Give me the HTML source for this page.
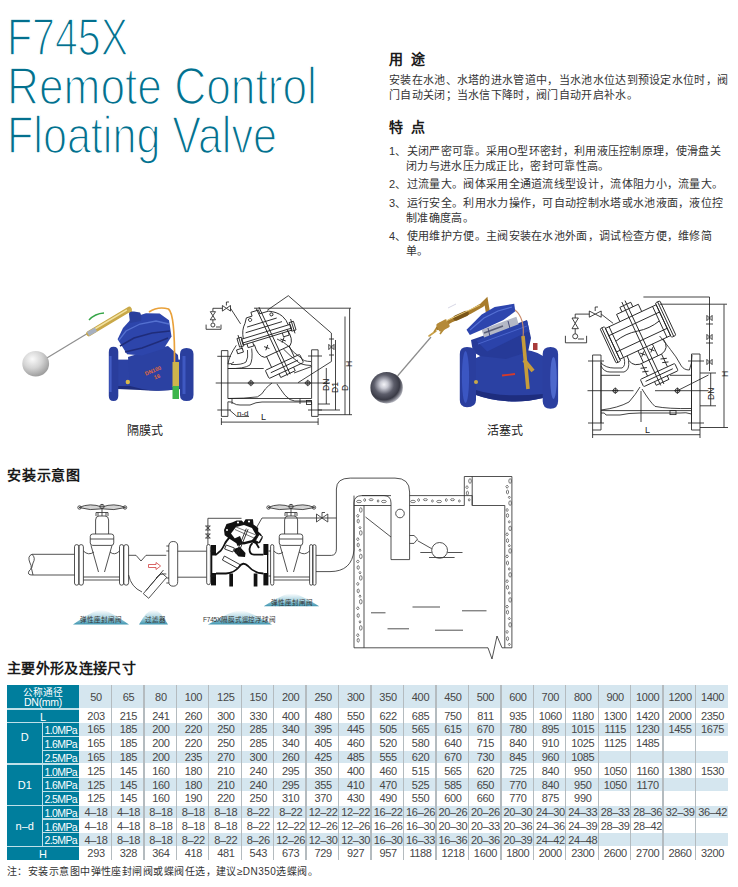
<!DOCTYPE html>
<html lang="zh-CN"><head><meta charset="utf-8">
<style>
html,body{margin:0;padding:0;background:#fff;}
body{width:738px;height:887px;position:relative;overflow:hidden;font-family:"Liberation Sans",sans-serif;}
.s{position:absolute;font-size:6.5px;color:#333;white-space:nowrap;line-height:8px;}
.t{position:absolute;color:#03708e;font-size:52px;line-height:50px;white-space:nowrap;transform-origin:0 0;-webkit-text-stroke:1.6px #fff;}
.h{position:absolute;font-weight:bold;font-size:14px;color:#1a1a1a;white-space:nowrap;}
.p{position:absolute;font-weight:500;font-size:11px;letter-spacing:0.31px;color:#333;white-space:nowrap;line-height:15px;}
</style></head><body>
<svg style="position:absolute;left:0;top:0" width="738" height="887" viewBox="0 0 738 887"><defs>
<radialGradient id="ball1" cx="0.38" cy="0.32" r="0.8">
 <stop offset="0" stop-color="#fafafa"/><stop offset="0.45" stop-color="#d4d4d4"/><stop offset="1" stop-color="#8c8c8c"/>
</radialGradient>
<radialGradient id="ball2" cx="0.42" cy="0.4" r="0.62">
 <stop offset="0" stop-color="#f4f4f8"/><stop offset="0.2" stop-color="#c9cad4"/><stop offset="0.5" stop-color="#5c5d6a"/><stop offset="0.78" stop-color="#3a3b46"/><stop offset="1" stop-color="#b8b9c2"/>
</radialGradient>
<linearGradient id="blueV" x1="0" y1="0" x2="0" y2="1">
 <stop offset="0" stop-color="#3550b4"/><stop offset="0.5" stop-color="#2a40a0"/><stop offset="1" stop-color="#1f2f80"/>
</linearGradient>
<linearGradient id="blueH" x1="0" y1="0" x2="1" y2="0">
 <stop offset="0" stop-color="#1f2f85"/><stop offset="0.4" stop-color="#3650b8"/><stop offset="1" stop-color="#22348a"/>
</linearGradient>
<linearGradient id="mtn" x1="0" y1="0" x2="0" y2="1">
 <stop offset="0" stop-color="#ffffff"/><stop offset="0.55" stop-color="#a9d3e0"/><stop offset="1" stop-color="#3f95b0"/>
</linearGradient>
</defs>
<g>
<line x1="46" y1="358.5" x2="89" y2="332.5" stroke="#8e8e8e" stroke-width="1.2"/>
<path d="M89 333.5 L129 309.5" stroke="#c9a848" stroke-width="5.5" stroke-linecap="round"/>
<path d="M93 330 L127 309.8" stroke="#f2e2a0" stroke-width="1.5"/>
<path d="M88 334 L96 329.5" stroke="#a7b0c0" stroke-width="4.5"/>
<path d="M129 309 L133 317" stroke="#cdb050" stroke-width="3.5"/>
<path d="M89 320 Q95 313.5 104 313" stroke="#36a548" stroke-width="1.5" fill="none"/>
<ellipse cx="35.7" cy="363.7" rx="13.4" ry="12.7" fill="url(#ball1)"/>
<rect x="117" y="359.6" width="64" height="28.6" fill="#2c42a4"/>
<path d="M117 386 H181 V389 Q160 392 140 390 L117 389 Z" fill="#1e2d7c"/>
<path d="M128 357 L150 350 L168 346 L178 355 L181 388 Q160 393 142 389 L130 386 Z" fill="#2b41a2"/>
<path d="M117.6 339.3 L123 328 L132.5 317.6 L146 313.2 L159.6 313.5 L169 320.3 L171.5 336.6 L163.7 348.8 L142 355.6 L127.1 354.2 Z" fill="#2d45ab"/>
<path d="M119 340 L126 331 L140 324 L156 321 L169 324" stroke="#5470d0" stroke-width="1.3" fill="none"/>
<path d="M120 346 L134 338 L152 333 L170 331" stroke="#1f2c7a" stroke-width="1.6" fill="none"/>
<path d="M125 352 L142 348 L158 342 L168 338" stroke="#1f2c7a" stroke-width="1.4" fill="none"/>
<path d="M129 314 Q129 311 134 311.5 L140 312.5 Q142 316 141 321 L130 323 Z" fill="#2a3f9c"/>
<path d="M108.8 352 Q108.8 346.7 113.5 346.7 Q118.3 346.7 118.3 352 V396 Q118.3 401 113.5 401 Q108.8 401 108.8 396 Z" fill="#293d9c"/>
<path d="M110.5 356 V392" stroke="#435dc4" stroke-width="2.2"/>
<path d="M180 354 Q180 348 186.5 348 Q193.5 348 193.5 354 V395 Q193.5 401 186.5 401 Q180 401 180 395 Z" fill="#2a3f9e"/>
<path d="M184 356 V394" stroke="#3f59c2" stroke-width="3"/>
<path d="M149 312 Q158 306 168.5 309 Q175 314 174.5 364" stroke="#e9a13a" stroke-width="1.7" fill="none"/>
<rect x="172.5" y="362" width="6.5" height="25" fill="#cdb44c"/>
<rect x="172.5" y="386" width="6.5" height="13" fill="#3db64c"/>
<g transform="rotate(-22 155 372)" fill="#e46a3a" font-size="5.5" font-weight="bold" font-family="Liberation Sans, sans-serif"><text x="145" y="372">DN100</text><text x="152" y="379">16</text></g>
<circle cx="127.8" cy="382" r="2.2" fill="#d9b849"/>
</g>
<g>
<line x1="397.5" y1="376" x2="431" y2="337" stroke="#8c8c8c" stroke-width="1.2"/>
<path d="M429 336 L436 331" stroke="#c9a045" stroke-width="1.6" stroke-linecap="round"/>
<path d="M434 332 L440 323 M440 334 L446 326" stroke="#b38a35" stroke-width="1.6"/>
<path d="M438 328 L452 320 L470 312 L482 305 L486 301 L488 313" stroke="#a87c2c" stroke-width="4.2" fill="none" stroke-linecap="round"/>
<rect x="437" y="321" width="12" height="9" rx="2" transform="rotate(-28 443 325.5)" fill="#b58a38"/>
<path d="M456 318 L466 313.5" stroke="#7a5518" stroke-width="5.5" stroke-linecap="round"/>
<path d="M446 321 L480 305" stroke="#e5c878" stroke-width="1"/>
<path d="M448 308 L456 304" stroke="#ccd" stroke-width="0.8"/>
<ellipse cx="386.6" cy="387.7" rx="16.2" ry="15.8" fill="url(#ball2)"/>
<path d="M476 358 Q490 351 505 350 Q530 347 543 356 V398 Q522 403 505 401 Q490 400 476 395 Z" fill="#2b41a3"/>
<path d="M476 390 Q500 398 543 394 V398 Q522 403 505 401 Q490 400 476 395 Z" fill="#1e2d7e"/>
<path d="M473 352 L471 340 L500 330 L527 320 L531 338 L528 352 L506 359 L480 356 Z" fill="#263a98"/>
<path d="M481.7 329.7 L516.4 316.7 L520.7 330.8 L484.9 340.5 Z" fill="#b4b8c6"/>
<path d="M486 338 L518 327" stroke="#eef0f6" stroke-width="1.6"/>
<path d="M484 333 L503 326" stroke="#5a5f78" stroke-width="1.5"/>
<path d="M488 328 L492 345 M508 321 L512 336" stroke="#3a4070" stroke-width="0.9"/>
<path d="M466.5 329.7 L481.7 314.5 L494.7 306.9 L514.2 303.7 L515.3 311.3 L503.4 320 L487.1 327.5 L469.8 335.1 Z" fill="#2d45ae"/>
<path d="M470 330 L484 318 L498 311 L512 307" stroke="#5570d4" stroke-width="1.2" fill="none"/>
<path d="M476.3 340.5 L527.2 321 L529.4 330.8 L487.1 351.4 Z" fill="#2b43aa"/>
<path d="M478 344 L527 326" stroke="#4a65cc" stroke-width="1" fill="none"/>
<path d="M459.8 354 Q459.8 347 467 347 Q476 347 476 354 V400 Q476 407.2 467 407.2 Q459.8 407.2 459.8 400 Z" fill="#2a3e9e"/>
<ellipse cx="465.5" cy="377" rx="3.6" ry="26" fill="#3b56c2"/>
<path d="M542.7 354 Q542.7 347 550.5 347 Q558.1 347 558.1 354 V401 Q558.1 408.8 550.5 408.8 Q542.7 408.8 542.7 401 Z" fill="#2b3fa0"/>
<ellipse cx="553.5" cy="378" rx="3.3" ry="21" fill="#4d68cc"/>
<path d="M515 310 Q525 318 523 338" stroke="#c88a6a" stroke-width="1.1" fill="none"/>
<path d="M523 336 L528 389" stroke="#c79c3c" stroke-width="3.6" fill="none"/>
<path d="M524 360 L533 371" stroke="#c79c3c" stroke-width="4"/>
<path d="M502 375.5 L515 374" stroke="#d63a2a" stroke-width="1.8"/>
<rect x="533" y="343" width="4.5" height="7" fill="#a83a3a"/>
<circle cx="476" cy="382" r="2" fill="#c9a848"/>
</g>
<g stroke="#222" stroke-width="0.85" fill="none">
<path d="M221.4 350.6 H227.9 V364 M221.4 350.6 V416.4 H227.9 V401.8"/>
<path d="M227.9 364 V398.5"/>
<path d="M311.6 349.8 H318.1 V416.4 H311.6 V401.8 M311.6 349.8 V398.5"/>
<path d="M217.3 356.3 H231 M308 356 H322 M217.3 410 H231 M308 410 H322"/>
<path d="M227.9 364 Q232 364 234 362 M227.9 368.5 H263.7 M294 373 L311.6 366.5"/>
<path d="M228 364 Q229 356 236.3 345.3 M227.9 368.5 Q244 369 250 365 Q253 360 251.7 348.5 M231 364.5 Q242 365 246 362 Q248.5 358 247.5 350"/>
<rect x="237" y="349" width="6" height="4" transform="rotate(-17 240 351)"/>
<path d="M311 361.5 Q303 361.5 301.3 358 Q292 352 288.3 346 Q284 342 277 339"/>
<path d="M311 365.5 Q300 365 297 361 Q290 356 283.4 349"/>
<path d="M215.7 383 H330"/>
<circle cx="250.9" cy="383" r="2.2"/><path d="M247.70000000000002 383 H254.1 M250.9 379.8 V386.2"/><circle cx="307.8" cy="383" r="2.2"/><path d="M304.6 383 H311.0 M307.8 379.8 V386.2"/>
<path d="M272 383 Q268 386 265.5 388.8 Q262 395 257.4 396.9 Q245 398.5 227.9 398.5 M276.9 383.9 Q281 390 285 395.3 Q290 401 294.8 401 H311.6"/>
<path d="M232 398.5 V404 M300 398.5 V404 M227.9 398.5 H311.6"/>
<path d="M227.9 401.8 Q232 401.5 234 403.5 Q236 405 240 405 H250 Q256 402 262 402 H300 Q305 402 311.6 401.8"/>
<rect x="306.5" y="400.5" width="5" height="4"/>
<path d="M229.5 410 L236.8 416.4 H249"/>
<path d="M221.4 418 V425 M318.1 418 V425 M221.4 422.1 H318.1"/>
<path d="M254 308.2 H351"/>
<path d="M267.2 310.3 L288.3 295.7 L331.4 333.1 V361.5 L298 382.7"/>
<path d="M328.79999999999995 344.4 L334.0 349.6 L334.0 344.4 L328.79999999999995 349.6 Z"/>
<path d="M329 339 H334 M329 355 H334"/>
<path d="M212.9 311 V308.3 H222.4 M230.5 308.3 L240.6 323.9 M226.4 305.5 V302 H229"/>
<path d="M222.4 305.5 L226.4 308.3 L222.4 311.1 Z M230.5 305.5 L226.4 308.3 L230.5 311.1 Z"/>
<path d="M210.3 311.7 H215.5 L212.9 315.7 Z M210.3 319.8 H215.5 L212.9 315.7 Z M212.9 319.8 V322.5"/>
<circle cx="212.9" cy="325" r="2"/>
<path d="M206.1 324.6 V329.3 H221 V324.6 M216 327 H220"/>
<path d="M349.6 308.4 V414.7 M345 316.5 V414.7 M335.5 340 V410 M326.3 368 V404"/>
<path d="M318.1 414.7 H352 M318 404 H330 M318 410 H340"/>
<g transform="rotate(-17 265 331)">
 <path d="M240 332 H291 M240 336 H291 M240 332 V338 H291 V332"/>
 <path d="M242 332 Q243 323 248 318 L251 313 H257 V309 H265 V313 H274 Q282 316 286 322 Q289 327 289 332"/>
 <path d="M246 327 H284 M249 322 H280"/>
 <rect x="236" y="330" width="4.5" height="9"/><rect x="290.5" y="330" width="4.5" height="9"/>
 <path d="M238 327 V342 M293 327 V342"/>
 <circle cx="254" cy="316" r="1.6"/><circle cx="276" cy="317" r="1.6"/>
 <path d="M244 338 V342 H250 V338 M281 338 V342 H287 V338"/>
</g>
<g transform="rotate(-25 266 327)">
 <path d="M248 338 Q246 350 252 354 H280 Q286 350 284 338"/>
 <path d="M265 306 V380 M268 306 V380"/>
 <path d="M254 354 V366 M279 354 V366"/>
 <path d="M256 344 L260 348 M256 348 L260 344 M274 344 L278 348 M274 348 L278 344"/>
 <rect x="247" y="366" width="38" height="9" rx="1"/>
 <path d="M251 370.5 H281 M258 375 V379 H274 V375"/>
</g>
</g>
<g fill="#222" font-family="Liberation Sans, sans-serif">
<text x="237" y="415.5" font-size="8">n-d</text>
<text x="261" y="420" font-size="9">L</text>
<text transform="translate(328.5 391) rotate(-90)" font-size="8.5">DN</text>
<text transform="translate(338 393) rotate(-90)" font-size="8.5">D1</text>
<text transform="translate(347.5 391) rotate(-90)" font-size="8.5">D</text>
<text transform="translate(352 367) rotate(-90)" font-size="8.5">H</text>
</g>
<g stroke="#222" stroke-width="0.85" fill="none">
<path d="M592.6 355 H601 V430 H592.6 Z M601 362 V423"/>
<path d="M691.5 354 H700 V430 H691.5 Z M691.5 361 V423"/>
<path d="M588 361 H604 M688 361 H704 M588 423 H604 M688 423 H704"/>
<path d="M601 375.3 H620 M670 375.3 H691.5 M601 410.6 H691.5"/>
<path d="M601 366 Q604 372 610 372 H624 Q630 370 628.5 360.5"/>
<path d="M601 363 Q606 368 614 368 H622 Q626 366 624 358"/>
<path d="M659.6 336 Q668 346 670.5 349.6 Q676 356 681.3 365.9 Q684 370 689.4 370 Q692 364 692 355"/>
<path d="M587.5 390.7 H633.5 M655 390.7 H708.5"/>
<circle cx="615.3" cy="390.7" r="2.2"/><path d="M612.0999999999999 390.7 H618.5 M615.3 387.5 V393.9"/><circle cx="677.4" cy="390.7" r="2.2"/><path d="M674.1999999999999 390.7 H680.6 M677.4 387.5 V393.9"/>
<path d="M601 410 Q618 408 629 402 Q636 394 640 387 M642 389 Q650 402 655 406.4 Q668 409 692 408.5"/>
<path d="M641 391 V422"/>
<rect x="670" y="410.6" width="6" height="4"/>
<path d="M601 413 Q605 412 606 415 H620 Q628 413 640 413 H680 Q686 412 691.5 414"/>
<path d="M643.4 297 H709.5 V371 M659.6 304.2 H727"/>
<path d="M706.9 315.4 L712.1 320.6 L712.1 315.4 L706.9 320.6 Z"/><path d="M706.9 334.4 L712.1 339.6 L712.1 334.4 L706.9 339.6 Z"/><path d="M706.9 359.4 L712.1 364.6 L712.1 359.4 L706.9 364.6 Z"/>
<path d="M706 324 H713 M706 343 H713"/>
<path d="M677.4 390.7 L708.5 375"/>
<path d="M575.2 318 V314.1 H589.3 M601.2 314.1 L613.1 323.3 M595.2 311 V307 H598"/>
<path d="M589.3 311 L595.2 314.1 L589.3 317.2 Z M601.2 311 L595.2 314.1 L601.2 317.2 Z"/>
<path d="M572 318 H578.4 L575.2 323.3 Z M572 328.7 H578.4 L575.2 323.3 Z M575.2 328.7 V333.8"/>
<circle cx="575.2" cy="336.3" r="2.5"/>
<path d="M565.4 335.8 V342.8 H586.6 V335.8 M578 339 H584"/>
<path d="M724 304.5 V427.5 M700 427.5 H728"/>
<path d="M710.7 373 V405.8 M700 373 H716 M700 405.8 H716"/>
<path d="M592.6 434.7 H700 M592.6 430 V438 M700 430 V438"/>
<g transform="rotate(-25 638 332)">
 <rect x="610" y="315" width="56" height="34"/>
 <path d="M614 315 V349 M662 315 V349 M610 323 H666 M614 331 Q626 328 638 331 Q650 334 662 331 M610 341 H666"/>
 <rect x="605" y="313" width="5" height="38" rx="1"/><rect x="666" y="313" width="5" height="38" rx="1"/>
 <path d="M607 313 V351 M668.5 313 V351"/>
 <path d="M626 315 V307 H650 V315 M632 307 V302 H644 V307"/>
 <path d="M618 349 Q616 360 626 362 H650 Q660 360 658 349"/>
 <path d="M636 298 V390 M639.5 298 V390"/>
 <path d="M630 349 V362 M646 349 V362 M631 352 L635 356 M631 356 L635 352 M641 352 L645 356 M641 356 L645 352"/>
 <path d="M628 362 V376 M650 362 V376"/>
 <path d="M625 366 L631 368 M625 370 L631 372 M647 366 L653 368 M647 370 L653 372"/>
 <rect x="620" y="376" width="38" height="8" rx="1"/>
 <path d="M624 380 H654 M632 384 V388 H646 V384"/>
</g>
</g>
<g fill="#222" font-family="Liberation Sans, sans-serif">
<text x="645" y="433" font-size="9">L</text>
<text transform="translate(714 400) rotate(-90)" font-size="8.5">DN</text>
<text transform="translate(727.5 377) rotate(-90)" font-size="8.5">H</text>
</g>
<g stroke="#333" stroke-width="0.85" fill="none">
<path d="M74.5 554.3 H32 Q27 556 30 563 Q33 568 29 571 Q27 575 32 575 H74.5"/>
<path d="M32 554.3 Q36 558 33 563 Q30 568 33 575"/>
<path d="M74.5 546.8000000000001 Q74.5 544.6 76.7 544.6 Q78.9 544.6 78.9 546.8000000000001 V583.0 Q78.9 585.2 76.7 585.2 Q74.5 585.2 74.5 583.0 Z"/>
<path d="M78.9 546.85 Q78.9 544.6 81.15 544.6 Q83.4 544.6 83.4 546.85 V582.95 Q83.4 585.2 81.15 585.2 Q78.9 585.2 78.9 582.95 Z"/>
<path d="M119.5 546.7 Q119.5 544.6 121.6 544.6 Q123.7 544.6 123.7 546.7 V583.1 Q123.7 585.2 121.6 585.2 Q119.5 585.2 119.5 583.1 Z"/>
<path d="M123.7 547.0500000000001 Q123.7 544.6 126.15 544.6 Q128.6 544.6 128.6 547.0500000000001 V582.75 Q128.6 585.2 126.15 585.2 Q123.7 585.2 123.7 582.75 Z"/>
<path d="M83.4 551 Q88.4 556 94 552 M119.5 551 Q114.5 556 110 552"/>
<path d="M83.4 577 H119.5 M83.4 580 H119.5"/>
<path d="M91 545.4 L98.5 572 M112 545.4 L104.5 572"/>
<rect x="90.25" y="534" width="23.5" height="11.4" rx="2.5"/>
<path d="M95.6 534 V520 Q95.6 516 99 516 H105 Q108.6 516 108.6 520 V534 M90.25 539 H113.75"/>
<path d="M96 516 V512.5 H108 V516 M98 512.5 V516 M102 512.5 V516 M106 512.5 V516"/>
<path d="M102 504 V512.5"/>
<path d="M79 507.5 Q90 502.5 102 507 Q114 502.5 125.5 507.5 Q114 511 102 508.8 Q90 511 79 507.5 Z" fill="#d4d4d4"/>
<circle cx="79.5" cy="507.5" r="1.7"/><circle cx="125" cy="507.5" r="1.7"/><circle cx="102" cy="506.5" r="2.2"/>
<path d="M270.6 546.2 Q270.6 544.6 272.20000000000005 544.6 Q273.8 544.6 273.8 546.2 V583.6 Q273.8 585.2 272.20000000000005 585.2 Q270.6 585.2 270.6 583.6 Z"/>
<path d="M309.6 546.2 Q309.6 544.6 311.20000000000005 544.6 Q312.8 544.6 312.8 546.2 V583.6 Q312.8 585.2 311.20000000000005 585.2 Q309.6 585.2 309.6 583.6 Z"/>
<path d="M312.8 546.2 Q312.8 544.6 314.4 544.6 Q316 544.6 316 546.2 V583.6 Q316 585.2 314.4 585.2 Q312.8 585.2 312.8 583.6 Z"/>
<path d="M273.8 551 Q278.8 556 283 552 M309.6 551 Q304.6 556 299 552"/>
<path d="M273.8 577 H309.6 M273.8 580 H309.6"/>
<path d="M280 545.4 L287.5 572 M301 545.4 L293.5 572"/>
<rect x="279.25" y="534" width="23.5" height="11.4" rx="2.5"/>
<path d="M284.6 534 V520 Q284.6 516 288 516 H294 Q297.6 516 297.6 520 V534 M279.25 539 H302.75"/>
<path d="M285 516 V512.5 H297 V516 M287 512.5 V516 M291 512.5 V516 M295 512.5 V516"/>
<path d="M291 504 V512.5"/>
<path d="M268 507.5 Q279 502.5 291 507 Q303 502.5 314.5 507.5 Q303 511 291 508.8 Q279 511 268 507.5 Z" fill="#d4d4d4"/>
<circle cx="268.5" cy="507.5" r="1.7"/><circle cx="314" cy="507.5" r="1.7"/><circle cx="291" cy="506.5" r="2.2"/>
<path d="M128.6 555.3 H136 L141 561 L146 555.3 H166.3"/>
<path d="M128.6 575 Q131 587 142 592 M156 578 Q160 573 166.3 574"/>
<path d="M166.3 546 H169 M166.3 551 H169 M166.3 578 H169 M166.3 583 H169"/>
<path d="M168.8 545.95 Q168.8 541.5 173.25 541.5 Q177.7 541.5 177.7 545.95 V581.75 Q177.7 586.2 173.25 586.2 Q168.8 586.2 168.8 581.75 Z"/>
<path d="M143.3 593.7 L148.7 598.3 L166.7 577.3 L161.3 572.7 Z M146 590.5 L163.5 570"/>
<path d="M177.7 551.2 H206.5 M177.7 577.2 H206.5"/>
<path d="M206.7 546.35 Q206.7 544.5 208.55 544.5 Q210.4 544.5 210.4 546.35 V582.75 Q210.4 584.6 208.55 584.6 Q206.7 584.6 206.7 582.75 Z"/>
<path d="M207.9 544.5 V518.3 H241.5"/>
<path d="M205.5 526 L210.3 530 L205.5 530 L210.3 526 Z M205.5 534 L210.3 538 L205.5 538 L210.3 534 Z"/>
<path d="M254 532 L262 518 M262 518 H336.4"/>
<path d="M316.5 514 L322 518 L316.5 522 Z M327.8 514 L322 518 L327.8 522 Z M322 518 V512.5 H325"/>
<path d="M316 555.4 H331.5 Q336.4 555 336.4 549 V489 Q336.4 478.1 350.2 478.1 H395 Q409.6 478.1 409.6 492 V559.6 H391 V503 Q391 495.6 384 495.6 H362 Q354 495.6 354 503 V550 Q352 571.6 330 571.6 H316"/>
</g>
<g fill="#111">
<rect x="211" y="545" width="5" height="10.5"/>
<rect x="211" y="573" width="5" height="12.4"/>
<rect x="211" y="555" width="1.3" height="18"/>
<rect x="229.3" y="573.5" width="3.7" height="13"/>
<rect x="253.7" y="573.5" width="3.7" height="13"/>
<rect x="263.4" y="544" width="5" height="11"/>
<rect x="263.4" y="573" width="5" height="12.4"/>
<rect x="267" y="555" width="1.3" height="18"/>
<path d="M224.7 535.3 L224 530 L226.5 524 L232 522.5 L236.6 520.4 L241.8 520.4 L243.5 522.5 L245.6 519.3 L253 519.3 L253.5 524.5 L258.2 528 L258.2 531.6 L261 534 L262.7 538 L260 543 L256 544 L252 542.5 L244 544.5 L236 543 L229 538.5 Z"/>
</g>
<path d="M231 533.5 L236 527 L244 525 L252 528 L256 535 L252 540 L244 542 L236 540 Z" fill="#fff"/>
<path d="M236 527 L256 535 M235 529.5 L254 538" stroke="#666" stroke-width="0.9" fill="none"/>
<g fill="#111">
<path d="M234.5 538.5 L240 536 L243 544 L237.5 546 Z"/>
<path d="M234.4 548.7 L240 547 L245.5 553 L245 557 L238.5 556.5 L234 551.5 Z"/>
<circle cx="238" cy="522.5" r="1.1" fill="#fff"/><circle cx="249" cy="521.5" r="1.1" fill="#fff"/><circle cx="227" cy="530" r="1" fill="#fff"/>
</g>
<g fill="none" stroke="#111" stroke-width="1.8">
<path d="M231 536 Q226 541 224.7 544 Q222 550 219.5 551.7 Q217 554 215.5 555"/>
<path d="M216 573.5 H226 Q234 573 239 567 Q243 561 248 566 Q254 573 263.4 573.5"/>
<path d="M252.5 543 Q250 545 249.5 549 Q249.5 554.5 254 554.7 H263.4"/>
<path d="M256 543 L259 548"/>
</g>
<g fill="none" stroke="#222" stroke-width="0.9">
<path d="M246.3 528.6 L236 554 M248.1 529.2 L237.8 554.6"/>
<path d="M226.2 545 L234.4 548 L232.8 552 L224.6 549 Z"/>
<path d="M224.4 556 L240 564.6 L238 568.5 L222.4 560 Z"/>
<path d="M210.4 551 H216 M210.4 576 H216 M268.4 551 H270.6 M268.4 576 H270.6"/>
</g>
<rect x="257" y="535" width="4" height="7" transform="rotate(30 259 538.5)" fill="#fff" stroke="#111" stroke-width="0.8"/>

<g stroke="#333" stroke-width="0.85" fill="none">
<path d="M354 647.8 V505.5 H391 M409.6 505.5 H464.3 V476.5 H511.9 V647.8 H502 L497 636 L492 659 L488 647.8 H354"/>
<path d="M364 505.5 V647.8 M354 495.6 V505.5 M409.6 495.6 H472.2 V505.5 M472.2 476.5 V505.5 H504.8 V647.8"/>
<path d="M391 495.6 H362"/>
<circle cx="400" cy="513.5" r="4.3"/>
<path d="M365.5 517 L391 537"/>
<path d="M409.6 535.5 L414 535.5 L417.6 539 L414 543.4 H409.6"/>
<path d="M417.6 540.7 L431.7 548.7"/>
<circle cx="439.6" cy="550.4" r="7.9"/>
<path d="M420.3 552.5 H431.7 M447.5 552.5 H462.5 M429 557.5 H454.6"/>
<path d="M371 612.8 H385.5 M412.5 607 H440 M462 610.8 H486.5 M387.5 628.8 H409 M435 630.2 H463"/>
</g>
<g stroke="#444" stroke-width="0.7" fill="none"><ellipse cx="360.8" cy="510.0" rx="1.3" ry="2.3"/><path d="M357.8 514.2 L359.1 515.8 L357.8 517.4 L356.5 515.8 Z"/><ellipse cx="358.2" cy="521.1" rx="1.1" ry="1.9"/><path d="M360.0 526.4 L361.0 527.7 L360.0 529.0 L359.0 527.7 Z"/><ellipse cx="360.8" cy="532.9" rx="1.3" ry="2.3"/><path d="M357.8 537.6 L359.1 539.2 L357.8 540.8 L356.5 539.2 Z"/><ellipse cx="358.2" cy="545.0" rx="1.1" ry="1.9"/><path d="M360.0 548.9 L361.0 550.2 L360.0 551.5 L359.0 550.2 Z"/><ellipse cx="360.8" cy="556.4" rx="1.3" ry="2.3"/><path d="M357.8 559.9 L359.1 561.5 L357.8 563.1 L356.5 561.5 Z"/><ellipse cx="358.2" cy="567.5" rx="1.1" ry="1.9"/><path d="M360.0 571.4 L361.0 572.7 L360.0 574.0 L359.0 572.7 Z"/><ellipse cx="360.8" cy="577.9" rx="1.3" ry="2.3"/><path d="M357.8 582.3 L359.1 583.9 L357.8 585.5 L356.5 583.9 Z"/><ellipse cx="358.2" cy="590.9" rx="1.1" ry="1.9"/><path d="M360.0 594.9 L361.0 596.2 L360.0 597.5 L359.0 596.2 Z"/><ellipse cx="360.8" cy="601.7" rx="1.3" ry="2.3"/><path d="M357.8 606.7 L359.1 608.3 L357.8 609.9 L356.5 608.3 Z"/><ellipse cx="358.2" cy="615.5" rx="1.1" ry="1.9"/><path d="M360.0 620.6 L361.0 621.9 L360.0 623.2 L359.0 621.9 Z"/><ellipse cx="360.8" cy="627.9" rx="1.3" ry="2.3"/><path d="M357.8 633.6 L359.1 635.2 L357.8 636.8 L356.5 635.2 Z"/><ellipse cx="358.2" cy="640.3" rx="1.1" ry="1.9"/><ellipse cx="510.1" cy="481.0" rx="1.3" ry="2.3"/><path d="M507.1 485.1 L508.4 486.7 L507.1 488.3 L505.8 486.7 Z"/><ellipse cx="507.5" cy="492.0" rx="1.1" ry="1.9"/><path d="M509.3 496.0 L510.3 497.3 L509.3 498.6 L508.3 497.3 Z"/><ellipse cx="510.1" cy="503.1" rx="1.3" ry="2.3"/><path d="M507.1 508.4 L508.4 510.0 L507.1 511.6 L505.8 510.0 Z"/><ellipse cx="507.5" cy="515.5" rx="1.1" ry="1.9"/><path d="M509.3 520.6 L510.3 521.9 L509.3 523.2 L508.3 521.9 Z"/><ellipse cx="510.1" cy="528.4" rx="1.3" ry="2.3"/><path d="M507.1 532.7 L508.4 534.3 L507.1 535.9 L505.8 534.3 Z"/><ellipse cx="507.5" cy="540.6" rx="1.1" ry="1.9"/><path d="M509.3 544.4 L510.3 545.7 L509.3 547.0 L508.3 545.7 Z"/><ellipse cx="510.1" cy="550.9" rx="1.3" ry="2.3"/><path d="M507.1 554.8 L508.4 556.4 L507.1 558.0 L505.8 556.4 Z"/><ellipse cx="507.5" cy="563.0" rx="1.1" ry="1.9"/><path d="M509.3 567.7 L510.3 569.0 L509.3 570.3 L508.3 569.0 Z"/><ellipse cx="510.1" cy="574.8" rx="1.3" ry="2.3"/><path d="M507.1 579.6 L508.4 581.2 L507.1 582.8 L505.8 581.2 Z"/><ellipse cx="507.5" cy="587.3" rx="1.1" ry="1.9"/><path d="M509.3 591.7 L510.3 593.0 L509.3 594.3 L508.3 593.0 Z"/><ellipse cx="510.1" cy="599.9" rx="1.3" ry="2.3"/><path d="M507.1 605.0 L508.4 606.6 L507.1 608.2 L505.8 606.6 Z"/><ellipse cx="507.5" cy="612.2" rx="1.1" ry="1.9"/><path d="M509.3 617.3 L510.3 618.6 L509.3 619.9 L508.3 618.6 Z"/><ellipse cx="510.1" cy="624.8" rx="1.3" ry="2.3"/><path d="M507.1 630.3 L508.4 631.9 L507.1 633.5 L505.8 631.9 Z"/><ellipse cx="507.5" cy="638.7" rx="1.1" ry="1.9"/><path d="M509.3 643.1 L510.3 644.4 L509.3 645.7 L508.3 644.4 Z"/><ellipse cx="359.0" cy="501.5" rx="2.4" ry="1.2"/><path d="M364.7 498.5 L365.9 500.0 L364.7 501.5 L363.5 500.0 Z"/><ellipse cx="371.1" cy="499.7" rx="2" ry="1"/><path d="M378.1 499.7 L379.1 501.0 L378.1 502.3 L377.0 501.0 Z"/><ellipse cx="383.9" cy="501.5" rx="2.4" ry="1.2"/><ellipse cx="413.0" cy="501.5" rx="2.4" ry="1.2"/><path d="M418.6 498.5 L419.8 500.0 L418.6 501.5 L417.4 500.0 Z"/><ellipse cx="425.4" cy="499.7" rx="2" ry="1"/><path d="M432.4 499.7 L433.5 501.0 L432.4 502.3 L431.4 501.0 Z"/><ellipse cx="439.1" cy="501.5" rx="2.4" ry="1.2"/><path d="M446.3 498.5 L447.5 500.0 L446.3 501.5 L445.1 500.0 Z"/><ellipse cx="452.5" cy="499.7" rx="2" ry="1"/><path d="M459.4 499.7 L460.4 501.0 L459.4 502.3 L458.3 501.0 Z"/><ellipse cx="470.0" cy="481.0" rx="1.3" ry="2.3"/><path d="M467.0 485.6 L468.3 487.2 L467.0 488.8 L465.7 487.2 Z"/><ellipse cx="467.4" cy="493.1" rx="1.1" ry="1.9"/><path d="M469.2 498.6 L470.2 499.9 L469.2 501.2 L468.2 499.9 Z"/></g>
<path d="M73 624.5 Q95.0 609 101.0 610 Q107.0 609 129 624.5 Z" fill="url(#mtn)"/>
<path d="M139 624.5 Q147.5 609 153.5 610 Q159.5 609 168 624.5 Z" fill="url(#mtn)"/>
<path d="M208 624.5 Q234.0 609.5 240.0 610.5 Q246.0 609.5 272 624.5 Z" fill="url(#mtn)"/>
<path d="M263.7 606.2 Q285.45 592.5 291.45 593.5 Q297.45 592.5 319.2 606.2 Z" fill="url(#mtn)"/>
<path d="M148.5 564.5 H156 V562.5 L160.6 566 L156 569.5 V567.5 H148.5 Z" fill="none" stroke="#d04040" stroke-width="0.8"/></svg>
<div class="t" style="left:6.5px;top:12.2px;transform:scaleX(0.79)">F745X</div>
<div class="t" style="left:6.5px;top:60.8px;transform:scaleX(0.851)">Remote Control</div>
<div class="t" style="left:6.5px;top:109.8px;transform:scaleX(0.829)">Floating Valve</div>
<div class="s" style="left:80px;top:616px">弹性座封闸阀</div>
<div class="s" style="left:145px;top:616px">过滤器</div>
<div class="s" style="left:203px;top:616px;letter-spacing:-0.2px">F745X隔膜式遥控浮球阀</div>
<div class="s" style="left:271px;top:599px">弹性座封闸阀</div>

<div class="h" style="left:389px;top:47.5px;letter-spacing:8px">用途</div>
<div class="p" style="left:389px;top:73px">安装在水池、水塔的进水管道中，当水池水位达到预设定水位时，阀<br>门自动关闭；当水信下降时，阀门自动开启补水。</div>
<div class="h" style="left:389px;top:115.5px;letter-spacing:8px">特点</div>
<div class="p" style="left:389px;top:144px">1、关闭严密可靠。采用O型环密封，利用液压控制原理，使滑盘关</div>
<div class="p" style="left:406px;top:158.5px">闭力与进水压力成正比，密封可靠性高。</div>
<div class="p" style="left:389px;top:177px">2、过流量大。阀体采用全通道流线型设计，流体阻力小，流量大。</div>
<div class="p" style="left:389px;top:196px">3、运行安全。利用水力操作，可自动控制水塔或水池液面，液位控</div>
<div class="p" style="left:406px;top:210.5px">制准确度高。</div>
<div class="p" style="left:389px;top:229px">4、使用维护方便。主阀安装在水池外面，调试检查方便，维修简</div>
<div class="p" style="left:406px;top:243.5px">单。</div>

<div class="p" style="left:127px;top:424px;font-size:12px;letter-spacing:-0.2px;color:#222">隔膜式</div>
<div class="p" style="left:487px;top:424px;font-size:12px;letter-spacing:-0.2px;color:#222">活塞式</div>

<div class="h" style="left:7px;top:464px;letter-spacing:0.75px">安装示意图</div>
<div class="h" style="left:7px;top:657px;letter-spacing:0.35px">主要外形及连接尺寸</div>
<div style="position:absolute;left:79px;top:685px;width:649px;height:23.4px;background:#d5e6ef"></div>
<div style="position:absolute;left:79px;top:723.36px;width:649px;height:12.56px;background:#d5e6ef"></div>
<div style="position:absolute;left:79px;top:750.88px;width:649px;height:12.56px;background:#d5e6ef"></div>
<div style="position:absolute;left:79px;top:778.40px;width:649px;height:12.56px;background:#d5e6ef"></div>
<div style="position:absolute;left:79px;top:805.92px;width:649px;height:12.56px;background:#d5e6ef"></div>
<div style="position:absolute;left:79px;top:833.44px;width:649px;height:12.56px;background:#d5e6ef"></div>
<div style="position:absolute;left:7px;top:685px;width:72px;height:175.36px;background:#007e9d"></div>
<div style="position:absolute;left:7px;top:708.20px;width:72px;height:1.6px;background:#bfe0e8"></div>
<div style="position:absolute;left:7px;top:722.16px;width:72px;height:1.2px;background:#bfe0e8"></div>
<div style="position:absolute;left:42.5px;top:735.92px;width:36.5px;height:1.2px;background:#bfe0e8"></div>
<div style="position:absolute;left:42.5px;top:749.68px;width:36.5px;height:1.2px;background:#bfe0e8"></div>
<div style="position:absolute;left:7px;top:763.44px;width:72px;height:1.2px;background:#bfe0e8"></div>
<div style="position:absolute;left:42.5px;top:777.20px;width:36.5px;height:1.2px;background:#bfe0e8"></div>
<div style="position:absolute;left:42.5px;top:790.96px;width:36.5px;height:1.2px;background:#bfe0e8"></div>
<div style="position:absolute;left:7px;top:804.72px;width:72px;height:1.2px;background:#bfe0e8"></div>
<div style="position:absolute;left:42.5px;top:818.48px;width:36.5px;height:1.2px;background:#bfe0e8"></div>
<div style="position:absolute;left:42.5px;top:832.24px;width:36.5px;height:1.2px;background:#bfe0e8"></div>
<div style="position:absolute;left:7px;top:846.00px;width:72px;height:1.2px;background:#bfe0e8"></div>
<div style="position:absolute;left:41.90px;top:722.76px;width:1.2px;height:123.84px;background:#bfe0e8"></div>
<div style="position:absolute;left:110.75px;top:685.00px;width:1.4px;height:175.36px;background:#b4bbbf"></div>
<div style="position:absolute;left:143.20px;top:685.00px;width:1.4px;height:175.36px;background:#b4bbbf"></div>
<div style="position:absolute;left:175.65px;top:685.00px;width:1.4px;height:175.36px;background:#b4bbbf"></div>
<div style="position:absolute;left:208.10px;top:685.00px;width:1.4px;height:175.36px;background:#b4bbbf"></div>
<div style="position:absolute;left:240.55px;top:685.00px;width:1.4px;height:175.36px;background:#b4bbbf"></div>
<div style="position:absolute;left:273.00px;top:685.00px;width:1.4px;height:175.36px;background:#b4bbbf"></div>
<div style="position:absolute;left:305.45px;top:685.00px;width:1.4px;height:175.36px;background:#b4bbbf"></div>
<div style="position:absolute;left:337.90px;top:685.00px;width:1.4px;height:175.36px;background:#b4bbbf"></div>
<div style="position:absolute;left:370.35px;top:685.00px;width:1.4px;height:175.36px;background:#b4bbbf"></div>
<div style="position:absolute;left:402.80px;top:685.00px;width:1.4px;height:175.36px;background:#b4bbbf"></div>
<div style="position:absolute;left:435.25px;top:685.00px;width:1.4px;height:175.36px;background:#b4bbbf"></div>
<div style="position:absolute;left:467.70px;top:685.00px;width:1.4px;height:175.36px;background:#b4bbbf"></div>
<div style="position:absolute;left:500.15px;top:685.00px;width:1.4px;height:175.36px;background:#b4bbbf"></div>
<div style="position:absolute;left:532.60px;top:685.00px;width:1.4px;height:175.36px;background:#b4bbbf"></div>
<div style="position:absolute;left:565.05px;top:685.00px;width:1.4px;height:175.36px;background:#b4bbbf"></div>
<div style="position:absolute;left:597.50px;top:685.00px;width:1.4px;height:175.36px;background:#b4bbbf"></div>
<div style="position:absolute;left:629.95px;top:685.00px;width:1.4px;height:175.36px;background:#b4bbbf"></div>
<div style="position:absolute;left:662.40px;top:685.00px;width:1.4px;height:175.36px;background:#b4bbbf"></div>
<div style="position:absolute;left:694.85px;top:685.00px;width:1.4px;height:175.36px;background:#b4bbbf"></div>
<div style="position:absolute;left:7px;top:686.5px;width:72px;height:11px;color:#fff;text-align:center;font-size:9.75px;line-height:11px;white-space:nowrap">公称通径</div>
<div style="position:absolute;left:7px;top:696.5px;width:72px;height:11px;color:#fff;text-align:center;font-size:10.5px;line-height:11px;white-space:nowrap;letter-spacing:-0.3px">DN(mm)</div>
<div style="position:absolute;left:79.80px;top:685.00px;width:32.45px;height:24.00px;line-height:24.00px;text-align:center;font-size:11px;color:#474747;white-space:nowrap;letter-spacing:-0.3px">50</div>
<div style="position:absolute;left:112.25px;top:685.00px;width:32.45px;height:24.00px;line-height:24.00px;text-align:center;font-size:11px;color:#474747;white-space:nowrap;letter-spacing:-0.3px">65</div>
<div style="position:absolute;left:144.70px;top:685.00px;width:32.45px;height:24.00px;line-height:24.00px;text-align:center;font-size:11px;color:#474747;white-space:nowrap;letter-spacing:-0.3px">80</div>
<div style="position:absolute;left:177.15px;top:685.00px;width:32.45px;height:24.00px;line-height:24.00px;text-align:center;font-size:11px;color:#474747;white-space:nowrap;letter-spacing:-0.3px">100</div>
<div style="position:absolute;left:209.60px;top:685.00px;width:32.45px;height:24.00px;line-height:24.00px;text-align:center;font-size:11px;color:#474747;white-space:nowrap;letter-spacing:-0.3px">125</div>
<div style="position:absolute;left:242.05px;top:685.00px;width:32.45px;height:24.00px;line-height:24.00px;text-align:center;font-size:11px;color:#474747;white-space:nowrap;letter-spacing:-0.3px">150</div>
<div style="position:absolute;left:274.50px;top:685.00px;width:32.45px;height:24.00px;line-height:24.00px;text-align:center;font-size:11px;color:#474747;white-space:nowrap;letter-spacing:-0.3px">200</div>
<div style="position:absolute;left:306.95px;top:685.00px;width:32.45px;height:24.00px;line-height:24.00px;text-align:center;font-size:11px;color:#474747;white-space:nowrap;letter-spacing:-0.3px">250</div>
<div style="position:absolute;left:339.40px;top:685.00px;width:32.45px;height:24.00px;line-height:24.00px;text-align:center;font-size:11px;color:#474747;white-space:nowrap;letter-spacing:-0.3px">300</div>
<div style="position:absolute;left:371.85px;top:685.00px;width:32.45px;height:24.00px;line-height:24.00px;text-align:center;font-size:11px;color:#474747;white-space:nowrap;letter-spacing:-0.3px">350</div>
<div style="position:absolute;left:404.30px;top:685.00px;width:32.45px;height:24.00px;line-height:24.00px;text-align:center;font-size:11px;color:#474747;white-space:nowrap;letter-spacing:-0.3px">400</div>
<div style="position:absolute;left:436.75px;top:685.00px;width:32.45px;height:24.00px;line-height:24.00px;text-align:center;font-size:11px;color:#474747;white-space:nowrap;letter-spacing:-0.3px">450</div>
<div style="position:absolute;left:469.20px;top:685.00px;width:32.45px;height:24.00px;line-height:24.00px;text-align:center;font-size:11px;color:#474747;white-space:nowrap;letter-spacing:-0.3px">500</div>
<div style="position:absolute;left:501.65px;top:685.00px;width:32.45px;height:24.00px;line-height:24.00px;text-align:center;font-size:11px;color:#474747;white-space:nowrap;letter-spacing:-0.3px">600</div>
<div style="position:absolute;left:534.10px;top:685.00px;width:32.45px;height:24.00px;line-height:24.00px;text-align:center;font-size:11px;color:#474747;white-space:nowrap;letter-spacing:-0.3px">700</div>
<div style="position:absolute;left:566.55px;top:685.00px;width:32.45px;height:24.00px;line-height:24.00px;text-align:center;font-size:11px;color:#474747;white-space:nowrap;letter-spacing:-0.3px">800</div>
<div style="position:absolute;left:599.00px;top:685.00px;width:32.45px;height:24.00px;line-height:24.00px;text-align:center;font-size:11px;color:#474747;white-space:nowrap;letter-spacing:-0.3px">900</div>
<div style="position:absolute;left:631.45px;top:685.00px;width:32.45px;height:24.00px;line-height:24.00px;text-align:center;font-size:11px;color:#474747;white-space:nowrap;letter-spacing:-0.3px">1000</div>
<div style="position:absolute;left:663.90px;top:685.00px;width:32.45px;height:24.00px;line-height:24.00px;text-align:center;font-size:11px;color:#474747;white-space:nowrap;letter-spacing:-0.3px">1200</div>
<div style="position:absolute;left:696.35px;top:685.00px;width:32.45px;height:24.00px;line-height:24.00px;text-align:center;font-size:11px;color:#474747;white-space:nowrap;letter-spacing:-0.3px">1400</div>
<div style="position:absolute;left:79.80px;top:709.70px;width:32.45px;height:13.76px;line-height:13.76px;text-align:center;font-size:11px;color:#474747;white-space:nowrap;letter-spacing:-0.35px">203</div>
<div style="position:absolute;left:112.25px;top:709.70px;width:32.45px;height:13.76px;line-height:13.76px;text-align:center;font-size:11px;color:#474747;white-space:nowrap;letter-spacing:-0.35px">215</div>
<div style="position:absolute;left:144.70px;top:709.70px;width:32.45px;height:13.76px;line-height:13.76px;text-align:center;font-size:11px;color:#474747;white-space:nowrap;letter-spacing:-0.35px">241</div>
<div style="position:absolute;left:177.15px;top:709.70px;width:32.45px;height:13.76px;line-height:13.76px;text-align:center;font-size:11px;color:#474747;white-space:nowrap;letter-spacing:-0.35px">260</div>
<div style="position:absolute;left:209.60px;top:709.70px;width:32.45px;height:13.76px;line-height:13.76px;text-align:center;font-size:11px;color:#474747;white-space:nowrap;letter-spacing:-0.35px">300</div>
<div style="position:absolute;left:242.05px;top:709.70px;width:32.45px;height:13.76px;line-height:13.76px;text-align:center;font-size:11px;color:#474747;white-space:nowrap;letter-spacing:-0.35px">330</div>
<div style="position:absolute;left:274.50px;top:709.70px;width:32.45px;height:13.76px;line-height:13.76px;text-align:center;font-size:11px;color:#474747;white-space:nowrap;letter-spacing:-0.35px">400</div>
<div style="position:absolute;left:306.95px;top:709.70px;width:32.45px;height:13.76px;line-height:13.76px;text-align:center;font-size:11px;color:#474747;white-space:nowrap;letter-spacing:-0.35px">480</div>
<div style="position:absolute;left:339.40px;top:709.70px;width:32.45px;height:13.76px;line-height:13.76px;text-align:center;font-size:11px;color:#474747;white-space:nowrap;letter-spacing:-0.35px">550</div>
<div style="position:absolute;left:371.85px;top:709.70px;width:32.45px;height:13.76px;line-height:13.76px;text-align:center;font-size:11px;color:#474747;white-space:nowrap;letter-spacing:-0.35px">622</div>
<div style="position:absolute;left:404.30px;top:709.70px;width:32.45px;height:13.76px;line-height:13.76px;text-align:center;font-size:11px;color:#474747;white-space:nowrap;letter-spacing:-0.35px">685</div>
<div style="position:absolute;left:436.75px;top:709.70px;width:32.45px;height:13.76px;line-height:13.76px;text-align:center;font-size:11px;color:#474747;white-space:nowrap;letter-spacing:-0.35px">750</div>
<div style="position:absolute;left:469.20px;top:709.70px;width:32.45px;height:13.76px;line-height:13.76px;text-align:center;font-size:11px;color:#474747;white-space:nowrap;letter-spacing:-0.35px">811</div>
<div style="position:absolute;left:501.65px;top:709.70px;width:32.45px;height:13.76px;line-height:13.76px;text-align:center;font-size:11px;color:#474747;white-space:nowrap;letter-spacing:-0.35px">935</div>
<div style="position:absolute;left:534.10px;top:709.70px;width:32.45px;height:13.76px;line-height:13.76px;text-align:center;font-size:11px;color:#474747;white-space:nowrap;letter-spacing:-0.35px">1060</div>
<div style="position:absolute;left:566.55px;top:709.70px;width:32.45px;height:13.76px;line-height:13.76px;text-align:center;font-size:11px;color:#474747;white-space:nowrap;letter-spacing:-0.35px">1180</div>
<div style="position:absolute;left:599.00px;top:709.70px;width:32.45px;height:13.76px;line-height:13.76px;text-align:center;font-size:11px;color:#474747;white-space:nowrap;letter-spacing:-0.35px">1300</div>
<div style="position:absolute;left:631.45px;top:709.70px;width:32.45px;height:13.76px;line-height:13.76px;text-align:center;font-size:11px;color:#474747;white-space:nowrap;letter-spacing:-0.35px">1420</div>
<div style="position:absolute;left:663.90px;top:709.70px;width:32.45px;height:13.76px;line-height:13.76px;text-align:center;font-size:11px;color:#474747;white-space:nowrap;letter-spacing:-0.35px">2000</div>
<div style="position:absolute;left:696.35px;top:709.70px;width:32.45px;height:13.76px;line-height:13.76px;text-align:center;font-size:11px;color:#474747;white-space:nowrap;letter-spacing:-0.35px">2350</div>
<div style="position:absolute;left:7.00px;top:710.50px;width:72.00px;height:13.76px;line-height:13.76px;text-align:center;font-size:11px;color:#fff;white-space:nowrap;">L</div>
<div style="position:absolute;left:79.80px;top:723.46px;width:32.45px;height:13.76px;line-height:13.76px;text-align:center;font-size:11px;color:#474747;white-space:nowrap;letter-spacing:-0.35px">165</div>
<div style="position:absolute;left:112.25px;top:723.46px;width:32.45px;height:13.76px;line-height:13.76px;text-align:center;font-size:11px;color:#474747;white-space:nowrap;letter-spacing:-0.35px">185</div>
<div style="position:absolute;left:144.70px;top:723.46px;width:32.45px;height:13.76px;line-height:13.76px;text-align:center;font-size:11px;color:#474747;white-space:nowrap;letter-spacing:-0.35px">200</div>
<div style="position:absolute;left:177.15px;top:723.46px;width:32.45px;height:13.76px;line-height:13.76px;text-align:center;font-size:11px;color:#474747;white-space:nowrap;letter-spacing:-0.35px">220</div>
<div style="position:absolute;left:209.60px;top:723.46px;width:32.45px;height:13.76px;line-height:13.76px;text-align:center;font-size:11px;color:#474747;white-space:nowrap;letter-spacing:-0.35px">250</div>
<div style="position:absolute;left:242.05px;top:723.46px;width:32.45px;height:13.76px;line-height:13.76px;text-align:center;font-size:11px;color:#474747;white-space:nowrap;letter-spacing:-0.35px">285</div>
<div style="position:absolute;left:274.50px;top:723.46px;width:32.45px;height:13.76px;line-height:13.76px;text-align:center;font-size:11px;color:#474747;white-space:nowrap;letter-spacing:-0.35px">340</div>
<div style="position:absolute;left:306.95px;top:723.46px;width:32.45px;height:13.76px;line-height:13.76px;text-align:center;font-size:11px;color:#474747;white-space:nowrap;letter-spacing:-0.35px">395</div>
<div style="position:absolute;left:339.40px;top:723.46px;width:32.45px;height:13.76px;line-height:13.76px;text-align:center;font-size:11px;color:#474747;white-space:nowrap;letter-spacing:-0.35px">445</div>
<div style="position:absolute;left:371.85px;top:723.46px;width:32.45px;height:13.76px;line-height:13.76px;text-align:center;font-size:11px;color:#474747;white-space:nowrap;letter-spacing:-0.35px">505</div>
<div style="position:absolute;left:404.30px;top:723.46px;width:32.45px;height:13.76px;line-height:13.76px;text-align:center;font-size:11px;color:#474747;white-space:nowrap;letter-spacing:-0.35px">565</div>
<div style="position:absolute;left:436.75px;top:723.46px;width:32.45px;height:13.76px;line-height:13.76px;text-align:center;font-size:11px;color:#474747;white-space:nowrap;letter-spacing:-0.35px">615</div>
<div style="position:absolute;left:469.20px;top:723.46px;width:32.45px;height:13.76px;line-height:13.76px;text-align:center;font-size:11px;color:#474747;white-space:nowrap;letter-spacing:-0.35px">670</div>
<div style="position:absolute;left:501.65px;top:723.46px;width:32.45px;height:13.76px;line-height:13.76px;text-align:center;font-size:11px;color:#474747;white-space:nowrap;letter-spacing:-0.35px">780</div>
<div style="position:absolute;left:534.10px;top:723.46px;width:32.45px;height:13.76px;line-height:13.76px;text-align:center;font-size:11px;color:#474747;white-space:nowrap;letter-spacing:-0.35px">895</div>
<div style="position:absolute;left:566.55px;top:723.46px;width:32.45px;height:13.76px;line-height:13.76px;text-align:center;font-size:11px;color:#474747;white-space:nowrap;letter-spacing:-0.35px">1015</div>
<div style="position:absolute;left:599.00px;top:723.46px;width:32.45px;height:13.76px;line-height:13.76px;text-align:center;font-size:11px;color:#474747;white-space:nowrap;letter-spacing:-0.35px">1115</div>
<div style="position:absolute;left:631.45px;top:723.46px;width:32.45px;height:13.76px;line-height:13.76px;text-align:center;font-size:11px;color:#474747;white-space:nowrap;letter-spacing:-0.35px">1230</div>
<div style="position:absolute;left:663.90px;top:723.46px;width:32.45px;height:13.76px;line-height:13.76px;text-align:center;font-size:11px;color:#474747;white-space:nowrap;letter-spacing:-0.35px">1455</div>
<div style="position:absolute;left:696.35px;top:723.46px;width:32.45px;height:13.76px;line-height:13.76px;text-align:center;font-size:11px;color:#474747;white-space:nowrap;letter-spacing:-0.35px">1675</div>
<div style="position:absolute;left:42.50px;top:724.26px;width:36.50px;height:13.76px;line-height:13.76px;text-align:center;font-size:10.5px;color:#fff;white-space:nowrap;letter-spacing:-0.6px">1.0MPa</div>
<div style="position:absolute;left:79.80px;top:737.22px;width:32.45px;height:13.76px;line-height:13.76px;text-align:center;font-size:11px;color:#474747;white-space:nowrap;letter-spacing:-0.35px">165</div>
<div style="position:absolute;left:112.25px;top:737.22px;width:32.45px;height:13.76px;line-height:13.76px;text-align:center;font-size:11px;color:#474747;white-space:nowrap;letter-spacing:-0.35px">185</div>
<div style="position:absolute;left:144.70px;top:737.22px;width:32.45px;height:13.76px;line-height:13.76px;text-align:center;font-size:11px;color:#474747;white-space:nowrap;letter-spacing:-0.35px">200</div>
<div style="position:absolute;left:177.15px;top:737.22px;width:32.45px;height:13.76px;line-height:13.76px;text-align:center;font-size:11px;color:#474747;white-space:nowrap;letter-spacing:-0.35px">220</div>
<div style="position:absolute;left:209.60px;top:737.22px;width:32.45px;height:13.76px;line-height:13.76px;text-align:center;font-size:11px;color:#474747;white-space:nowrap;letter-spacing:-0.35px">250</div>
<div style="position:absolute;left:242.05px;top:737.22px;width:32.45px;height:13.76px;line-height:13.76px;text-align:center;font-size:11px;color:#474747;white-space:nowrap;letter-spacing:-0.35px">285</div>
<div style="position:absolute;left:274.50px;top:737.22px;width:32.45px;height:13.76px;line-height:13.76px;text-align:center;font-size:11px;color:#474747;white-space:nowrap;letter-spacing:-0.35px">340</div>
<div style="position:absolute;left:306.95px;top:737.22px;width:32.45px;height:13.76px;line-height:13.76px;text-align:center;font-size:11px;color:#474747;white-space:nowrap;letter-spacing:-0.35px">405</div>
<div style="position:absolute;left:339.40px;top:737.22px;width:32.45px;height:13.76px;line-height:13.76px;text-align:center;font-size:11px;color:#474747;white-space:nowrap;letter-spacing:-0.35px">460</div>
<div style="position:absolute;left:371.85px;top:737.22px;width:32.45px;height:13.76px;line-height:13.76px;text-align:center;font-size:11px;color:#474747;white-space:nowrap;letter-spacing:-0.35px">520</div>
<div style="position:absolute;left:404.30px;top:737.22px;width:32.45px;height:13.76px;line-height:13.76px;text-align:center;font-size:11px;color:#474747;white-space:nowrap;letter-spacing:-0.35px">580</div>
<div style="position:absolute;left:436.75px;top:737.22px;width:32.45px;height:13.76px;line-height:13.76px;text-align:center;font-size:11px;color:#474747;white-space:nowrap;letter-spacing:-0.35px">640</div>
<div style="position:absolute;left:469.20px;top:737.22px;width:32.45px;height:13.76px;line-height:13.76px;text-align:center;font-size:11px;color:#474747;white-space:nowrap;letter-spacing:-0.35px">715</div>
<div style="position:absolute;left:501.65px;top:737.22px;width:32.45px;height:13.76px;line-height:13.76px;text-align:center;font-size:11px;color:#474747;white-space:nowrap;letter-spacing:-0.35px">840</div>
<div style="position:absolute;left:534.10px;top:737.22px;width:32.45px;height:13.76px;line-height:13.76px;text-align:center;font-size:11px;color:#474747;white-space:nowrap;letter-spacing:-0.35px">910</div>
<div style="position:absolute;left:566.55px;top:737.22px;width:32.45px;height:13.76px;line-height:13.76px;text-align:center;font-size:11px;color:#474747;white-space:nowrap;letter-spacing:-0.35px">1025</div>
<div style="position:absolute;left:599.00px;top:737.22px;width:32.45px;height:13.76px;line-height:13.76px;text-align:center;font-size:11px;color:#474747;white-space:nowrap;letter-spacing:-0.35px">1125</div>
<div style="position:absolute;left:631.45px;top:737.22px;width:32.45px;height:13.76px;line-height:13.76px;text-align:center;font-size:11px;color:#474747;white-space:nowrap;letter-spacing:-0.35px">1485</div>
<div style="position:absolute;left:42.50px;top:738.02px;width:36.50px;height:13.76px;line-height:13.76px;text-align:center;font-size:10.5px;color:#fff;white-space:nowrap;letter-spacing:-0.6px">1.6MPa</div>
<div style="position:absolute;left:79.80px;top:750.98px;width:32.45px;height:13.76px;line-height:13.76px;text-align:center;font-size:11px;color:#474747;white-space:nowrap;letter-spacing:-0.35px">165</div>
<div style="position:absolute;left:112.25px;top:750.98px;width:32.45px;height:13.76px;line-height:13.76px;text-align:center;font-size:11px;color:#474747;white-space:nowrap;letter-spacing:-0.35px">185</div>
<div style="position:absolute;left:144.70px;top:750.98px;width:32.45px;height:13.76px;line-height:13.76px;text-align:center;font-size:11px;color:#474747;white-space:nowrap;letter-spacing:-0.35px">200</div>
<div style="position:absolute;left:177.15px;top:750.98px;width:32.45px;height:13.76px;line-height:13.76px;text-align:center;font-size:11px;color:#474747;white-space:nowrap;letter-spacing:-0.35px">235</div>
<div style="position:absolute;left:209.60px;top:750.98px;width:32.45px;height:13.76px;line-height:13.76px;text-align:center;font-size:11px;color:#474747;white-space:nowrap;letter-spacing:-0.35px">270</div>
<div style="position:absolute;left:242.05px;top:750.98px;width:32.45px;height:13.76px;line-height:13.76px;text-align:center;font-size:11px;color:#474747;white-space:nowrap;letter-spacing:-0.35px">300</div>
<div style="position:absolute;left:274.50px;top:750.98px;width:32.45px;height:13.76px;line-height:13.76px;text-align:center;font-size:11px;color:#474747;white-space:nowrap;letter-spacing:-0.35px">260</div>
<div style="position:absolute;left:306.95px;top:750.98px;width:32.45px;height:13.76px;line-height:13.76px;text-align:center;font-size:11px;color:#474747;white-space:nowrap;letter-spacing:-0.35px">425</div>
<div style="position:absolute;left:339.40px;top:750.98px;width:32.45px;height:13.76px;line-height:13.76px;text-align:center;font-size:11px;color:#474747;white-space:nowrap;letter-spacing:-0.35px">485</div>
<div style="position:absolute;left:371.85px;top:750.98px;width:32.45px;height:13.76px;line-height:13.76px;text-align:center;font-size:11px;color:#474747;white-space:nowrap;letter-spacing:-0.35px">555</div>
<div style="position:absolute;left:404.30px;top:750.98px;width:32.45px;height:13.76px;line-height:13.76px;text-align:center;font-size:11px;color:#474747;white-space:nowrap;letter-spacing:-0.35px">620</div>
<div style="position:absolute;left:436.75px;top:750.98px;width:32.45px;height:13.76px;line-height:13.76px;text-align:center;font-size:11px;color:#474747;white-space:nowrap;letter-spacing:-0.35px">670</div>
<div style="position:absolute;left:469.20px;top:750.98px;width:32.45px;height:13.76px;line-height:13.76px;text-align:center;font-size:11px;color:#474747;white-space:nowrap;letter-spacing:-0.35px">730</div>
<div style="position:absolute;left:501.65px;top:750.98px;width:32.45px;height:13.76px;line-height:13.76px;text-align:center;font-size:11px;color:#474747;white-space:nowrap;letter-spacing:-0.35px">845</div>
<div style="position:absolute;left:534.10px;top:750.98px;width:32.45px;height:13.76px;line-height:13.76px;text-align:center;font-size:11px;color:#474747;white-space:nowrap;letter-spacing:-0.35px">960</div>
<div style="position:absolute;left:566.55px;top:750.98px;width:32.45px;height:13.76px;line-height:13.76px;text-align:center;font-size:11px;color:#474747;white-space:nowrap;letter-spacing:-0.35px">1085</div>
<div style="position:absolute;left:42.50px;top:751.78px;width:36.50px;height:13.76px;line-height:13.76px;text-align:center;font-size:10.5px;color:#fff;white-space:nowrap;letter-spacing:-0.6px">2.5MPa</div>
<div style="position:absolute;left:79.80px;top:764.74px;width:32.45px;height:13.76px;line-height:13.76px;text-align:center;font-size:11px;color:#474747;white-space:nowrap;letter-spacing:-0.35px">125</div>
<div style="position:absolute;left:112.25px;top:764.74px;width:32.45px;height:13.76px;line-height:13.76px;text-align:center;font-size:11px;color:#474747;white-space:nowrap;letter-spacing:-0.35px">145</div>
<div style="position:absolute;left:144.70px;top:764.74px;width:32.45px;height:13.76px;line-height:13.76px;text-align:center;font-size:11px;color:#474747;white-space:nowrap;letter-spacing:-0.35px">160</div>
<div style="position:absolute;left:177.15px;top:764.74px;width:32.45px;height:13.76px;line-height:13.76px;text-align:center;font-size:11px;color:#474747;white-space:nowrap;letter-spacing:-0.35px">180</div>
<div style="position:absolute;left:209.60px;top:764.74px;width:32.45px;height:13.76px;line-height:13.76px;text-align:center;font-size:11px;color:#474747;white-space:nowrap;letter-spacing:-0.35px">210</div>
<div style="position:absolute;left:242.05px;top:764.74px;width:32.45px;height:13.76px;line-height:13.76px;text-align:center;font-size:11px;color:#474747;white-space:nowrap;letter-spacing:-0.35px">240</div>
<div style="position:absolute;left:274.50px;top:764.74px;width:32.45px;height:13.76px;line-height:13.76px;text-align:center;font-size:11px;color:#474747;white-space:nowrap;letter-spacing:-0.35px">295</div>
<div style="position:absolute;left:306.95px;top:764.74px;width:32.45px;height:13.76px;line-height:13.76px;text-align:center;font-size:11px;color:#474747;white-space:nowrap;letter-spacing:-0.35px">350</div>
<div style="position:absolute;left:339.40px;top:764.74px;width:32.45px;height:13.76px;line-height:13.76px;text-align:center;font-size:11px;color:#474747;white-space:nowrap;letter-spacing:-0.35px">400</div>
<div style="position:absolute;left:371.85px;top:764.74px;width:32.45px;height:13.76px;line-height:13.76px;text-align:center;font-size:11px;color:#474747;white-space:nowrap;letter-spacing:-0.35px">460</div>
<div style="position:absolute;left:404.30px;top:764.74px;width:32.45px;height:13.76px;line-height:13.76px;text-align:center;font-size:11px;color:#474747;white-space:nowrap;letter-spacing:-0.35px">515</div>
<div style="position:absolute;left:436.75px;top:764.74px;width:32.45px;height:13.76px;line-height:13.76px;text-align:center;font-size:11px;color:#474747;white-space:nowrap;letter-spacing:-0.35px">565</div>
<div style="position:absolute;left:469.20px;top:764.74px;width:32.45px;height:13.76px;line-height:13.76px;text-align:center;font-size:11px;color:#474747;white-space:nowrap;letter-spacing:-0.35px">620</div>
<div style="position:absolute;left:501.65px;top:764.74px;width:32.45px;height:13.76px;line-height:13.76px;text-align:center;font-size:11px;color:#474747;white-space:nowrap;letter-spacing:-0.35px">725</div>
<div style="position:absolute;left:534.10px;top:764.74px;width:32.45px;height:13.76px;line-height:13.76px;text-align:center;font-size:11px;color:#474747;white-space:nowrap;letter-spacing:-0.35px">840</div>
<div style="position:absolute;left:566.55px;top:764.74px;width:32.45px;height:13.76px;line-height:13.76px;text-align:center;font-size:11px;color:#474747;white-space:nowrap;letter-spacing:-0.35px">950</div>
<div style="position:absolute;left:599.00px;top:764.74px;width:32.45px;height:13.76px;line-height:13.76px;text-align:center;font-size:11px;color:#474747;white-space:nowrap;letter-spacing:-0.35px">1050</div>
<div style="position:absolute;left:631.45px;top:764.74px;width:32.45px;height:13.76px;line-height:13.76px;text-align:center;font-size:11px;color:#474747;white-space:nowrap;letter-spacing:-0.35px">1160</div>
<div style="position:absolute;left:663.90px;top:764.74px;width:32.45px;height:13.76px;line-height:13.76px;text-align:center;font-size:11px;color:#474747;white-space:nowrap;letter-spacing:-0.35px">1380</div>
<div style="position:absolute;left:696.35px;top:764.74px;width:32.45px;height:13.76px;line-height:13.76px;text-align:center;font-size:11px;color:#474747;white-space:nowrap;letter-spacing:-0.35px">1530</div>
<div style="position:absolute;left:42.50px;top:765.54px;width:36.50px;height:13.76px;line-height:13.76px;text-align:center;font-size:10.5px;color:#fff;white-space:nowrap;letter-spacing:-0.6px">1.0MPa</div>
<div style="position:absolute;left:79.80px;top:778.50px;width:32.45px;height:13.76px;line-height:13.76px;text-align:center;font-size:11px;color:#474747;white-space:nowrap;letter-spacing:-0.35px">125</div>
<div style="position:absolute;left:112.25px;top:778.50px;width:32.45px;height:13.76px;line-height:13.76px;text-align:center;font-size:11px;color:#474747;white-space:nowrap;letter-spacing:-0.35px">145</div>
<div style="position:absolute;left:144.70px;top:778.50px;width:32.45px;height:13.76px;line-height:13.76px;text-align:center;font-size:11px;color:#474747;white-space:nowrap;letter-spacing:-0.35px">160</div>
<div style="position:absolute;left:177.15px;top:778.50px;width:32.45px;height:13.76px;line-height:13.76px;text-align:center;font-size:11px;color:#474747;white-space:nowrap;letter-spacing:-0.35px">180</div>
<div style="position:absolute;left:209.60px;top:778.50px;width:32.45px;height:13.76px;line-height:13.76px;text-align:center;font-size:11px;color:#474747;white-space:nowrap;letter-spacing:-0.35px">210</div>
<div style="position:absolute;left:242.05px;top:778.50px;width:32.45px;height:13.76px;line-height:13.76px;text-align:center;font-size:11px;color:#474747;white-space:nowrap;letter-spacing:-0.35px">240</div>
<div style="position:absolute;left:274.50px;top:778.50px;width:32.45px;height:13.76px;line-height:13.76px;text-align:center;font-size:11px;color:#474747;white-space:nowrap;letter-spacing:-0.35px">295</div>
<div style="position:absolute;left:306.95px;top:778.50px;width:32.45px;height:13.76px;line-height:13.76px;text-align:center;font-size:11px;color:#474747;white-space:nowrap;letter-spacing:-0.35px">355</div>
<div style="position:absolute;left:339.40px;top:778.50px;width:32.45px;height:13.76px;line-height:13.76px;text-align:center;font-size:11px;color:#474747;white-space:nowrap;letter-spacing:-0.35px">410</div>
<div style="position:absolute;left:371.85px;top:778.50px;width:32.45px;height:13.76px;line-height:13.76px;text-align:center;font-size:11px;color:#474747;white-space:nowrap;letter-spacing:-0.35px">470</div>
<div style="position:absolute;left:404.30px;top:778.50px;width:32.45px;height:13.76px;line-height:13.76px;text-align:center;font-size:11px;color:#474747;white-space:nowrap;letter-spacing:-0.35px">525</div>
<div style="position:absolute;left:436.75px;top:778.50px;width:32.45px;height:13.76px;line-height:13.76px;text-align:center;font-size:11px;color:#474747;white-space:nowrap;letter-spacing:-0.35px">585</div>
<div style="position:absolute;left:469.20px;top:778.50px;width:32.45px;height:13.76px;line-height:13.76px;text-align:center;font-size:11px;color:#474747;white-space:nowrap;letter-spacing:-0.35px">650</div>
<div style="position:absolute;left:501.65px;top:778.50px;width:32.45px;height:13.76px;line-height:13.76px;text-align:center;font-size:11px;color:#474747;white-space:nowrap;letter-spacing:-0.35px">770</div>
<div style="position:absolute;left:534.10px;top:778.50px;width:32.45px;height:13.76px;line-height:13.76px;text-align:center;font-size:11px;color:#474747;white-space:nowrap;letter-spacing:-0.35px">840</div>
<div style="position:absolute;left:566.55px;top:778.50px;width:32.45px;height:13.76px;line-height:13.76px;text-align:center;font-size:11px;color:#474747;white-space:nowrap;letter-spacing:-0.35px">950</div>
<div style="position:absolute;left:599.00px;top:778.50px;width:32.45px;height:13.76px;line-height:13.76px;text-align:center;font-size:11px;color:#474747;white-space:nowrap;letter-spacing:-0.35px">1050</div>
<div style="position:absolute;left:631.45px;top:778.50px;width:32.45px;height:13.76px;line-height:13.76px;text-align:center;font-size:11px;color:#474747;white-space:nowrap;letter-spacing:-0.35px">1170</div>
<div style="position:absolute;left:42.50px;top:779.30px;width:36.50px;height:13.76px;line-height:13.76px;text-align:center;font-size:10.5px;color:#fff;white-space:nowrap;letter-spacing:-0.6px">1.6MPa</div>
<div style="position:absolute;left:79.80px;top:792.26px;width:32.45px;height:13.76px;line-height:13.76px;text-align:center;font-size:11px;color:#474747;white-space:nowrap;letter-spacing:-0.35px">125</div>
<div style="position:absolute;left:112.25px;top:792.26px;width:32.45px;height:13.76px;line-height:13.76px;text-align:center;font-size:11px;color:#474747;white-space:nowrap;letter-spacing:-0.35px">145</div>
<div style="position:absolute;left:144.70px;top:792.26px;width:32.45px;height:13.76px;line-height:13.76px;text-align:center;font-size:11px;color:#474747;white-space:nowrap;letter-spacing:-0.35px">160</div>
<div style="position:absolute;left:177.15px;top:792.26px;width:32.45px;height:13.76px;line-height:13.76px;text-align:center;font-size:11px;color:#474747;white-space:nowrap;letter-spacing:-0.35px">190</div>
<div style="position:absolute;left:209.60px;top:792.26px;width:32.45px;height:13.76px;line-height:13.76px;text-align:center;font-size:11px;color:#474747;white-space:nowrap;letter-spacing:-0.35px">220</div>
<div style="position:absolute;left:242.05px;top:792.26px;width:32.45px;height:13.76px;line-height:13.76px;text-align:center;font-size:11px;color:#474747;white-space:nowrap;letter-spacing:-0.35px">250</div>
<div style="position:absolute;left:274.50px;top:792.26px;width:32.45px;height:13.76px;line-height:13.76px;text-align:center;font-size:11px;color:#474747;white-space:nowrap;letter-spacing:-0.35px">310</div>
<div style="position:absolute;left:306.95px;top:792.26px;width:32.45px;height:13.76px;line-height:13.76px;text-align:center;font-size:11px;color:#474747;white-space:nowrap;letter-spacing:-0.35px">370</div>
<div style="position:absolute;left:339.40px;top:792.26px;width:32.45px;height:13.76px;line-height:13.76px;text-align:center;font-size:11px;color:#474747;white-space:nowrap;letter-spacing:-0.35px">430</div>
<div style="position:absolute;left:371.85px;top:792.26px;width:32.45px;height:13.76px;line-height:13.76px;text-align:center;font-size:11px;color:#474747;white-space:nowrap;letter-spacing:-0.35px">490</div>
<div style="position:absolute;left:404.30px;top:792.26px;width:32.45px;height:13.76px;line-height:13.76px;text-align:center;font-size:11px;color:#474747;white-space:nowrap;letter-spacing:-0.35px">550</div>
<div style="position:absolute;left:436.75px;top:792.26px;width:32.45px;height:13.76px;line-height:13.76px;text-align:center;font-size:11px;color:#474747;white-space:nowrap;letter-spacing:-0.35px">600</div>
<div style="position:absolute;left:469.20px;top:792.26px;width:32.45px;height:13.76px;line-height:13.76px;text-align:center;font-size:11px;color:#474747;white-space:nowrap;letter-spacing:-0.35px">660</div>
<div style="position:absolute;left:501.65px;top:792.26px;width:32.45px;height:13.76px;line-height:13.76px;text-align:center;font-size:11px;color:#474747;white-space:nowrap;letter-spacing:-0.35px">770</div>
<div style="position:absolute;left:534.10px;top:792.26px;width:32.45px;height:13.76px;line-height:13.76px;text-align:center;font-size:11px;color:#474747;white-space:nowrap;letter-spacing:-0.35px">875</div>
<div style="position:absolute;left:566.55px;top:792.26px;width:32.45px;height:13.76px;line-height:13.76px;text-align:center;font-size:11px;color:#474747;white-space:nowrap;letter-spacing:-0.35px">990</div>
<div style="position:absolute;left:42.50px;top:793.06px;width:36.50px;height:13.76px;line-height:13.76px;text-align:center;font-size:10.5px;color:#fff;white-space:nowrap;letter-spacing:-0.6px">2.5MPa</div>
<div style="position:absolute;left:79.80px;top:806.02px;width:32.45px;height:13.76px;line-height:13.76px;text-align:center;font-size:11px;color:#474747;white-space:nowrap;letter-spacing:-0.35px">4–18</div>
<div style="position:absolute;left:112.25px;top:806.02px;width:32.45px;height:13.76px;line-height:13.76px;text-align:center;font-size:11px;color:#474747;white-space:nowrap;letter-spacing:-0.35px">4–18</div>
<div style="position:absolute;left:144.70px;top:806.02px;width:32.45px;height:13.76px;line-height:13.76px;text-align:center;font-size:11px;color:#474747;white-space:nowrap;letter-spacing:-0.35px">8–18</div>
<div style="position:absolute;left:177.15px;top:806.02px;width:32.45px;height:13.76px;line-height:13.76px;text-align:center;font-size:11px;color:#474747;white-space:nowrap;letter-spacing:-0.35px">8–18</div>
<div style="position:absolute;left:209.60px;top:806.02px;width:32.45px;height:13.76px;line-height:13.76px;text-align:center;font-size:11px;color:#474747;white-space:nowrap;letter-spacing:-0.35px">8–18</div>
<div style="position:absolute;left:242.05px;top:806.02px;width:32.45px;height:13.76px;line-height:13.76px;text-align:center;font-size:11px;color:#474747;white-space:nowrap;letter-spacing:-0.35px">8–22</div>
<div style="position:absolute;left:274.50px;top:806.02px;width:32.45px;height:13.76px;line-height:13.76px;text-align:center;font-size:11px;color:#474747;white-space:nowrap;letter-spacing:-0.35px">8–22</div>
<div style="position:absolute;left:306.95px;top:806.02px;width:32.45px;height:13.76px;line-height:13.76px;text-align:center;font-size:11px;color:#474747;white-space:nowrap;letter-spacing:-0.35px">12–22</div>
<div style="position:absolute;left:339.40px;top:806.02px;width:32.45px;height:13.76px;line-height:13.76px;text-align:center;font-size:11px;color:#474747;white-space:nowrap;letter-spacing:-0.35px">12–22</div>
<div style="position:absolute;left:371.85px;top:806.02px;width:32.45px;height:13.76px;line-height:13.76px;text-align:center;font-size:11px;color:#474747;white-space:nowrap;letter-spacing:-0.35px">16–22</div>
<div style="position:absolute;left:404.30px;top:806.02px;width:32.45px;height:13.76px;line-height:13.76px;text-align:center;font-size:11px;color:#474747;white-space:nowrap;letter-spacing:-0.35px">16–26</div>
<div style="position:absolute;left:436.75px;top:806.02px;width:32.45px;height:13.76px;line-height:13.76px;text-align:center;font-size:11px;color:#474747;white-space:nowrap;letter-spacing:-0.35px">20–26</div>
<div style="position:absolute;left:469.20px;top:806.02px;width:32.45px;height:13.76px;line-height:13.76px;text-align:center;font-size:11px;color:#474747;white-space:nowrap;letter-spacing:-0.35px">20–26</div>
<div style="position:absolute;left:501.65px;top:806.02px;width:32.45px;height:13.76px;line-height:13.76px;text-align:center;font-size:11px;color:#474747;white-space:nowrap;letter-spacing:-0.35px">20–30</div>
<div style="position:absolute;left:534.10px;top:806.02px;width:32.45px;height:13.76px;line-height:13.76px;text-align:center;font-size:11px;color:#474747;white-space:nowrap;letter-spacing:-0.35px">24–30</div>
<div style="position:absolute;left:566.55px;top:806.02px;width:32.45px;height:13.76px;line-height:13.76px;text-align:center;font-size:11px;color:#474747;white-space:nowrap;letter-spacing:-0.35px">24–33</div>
<div style="position:absolute;left:599.00px;top:806.02px;width:32.45px;height:13.76px;line-height:13.76px;text-align:center;font-size:11px;color:#474747;white-space:nowrap;letter-spacing:-0.35px">28–33</div>
<div style="position:absolute;left:631.45px;top:806.02px;width:32.45px;height:13.76px;line-height:13.76px;text-align:center;font-size:11px;color:#474747;white-space:nowrap;letter-spacing:-0.35px">28–36</div>
<div style="position:absolute;left:663.90px;top:806.02px;width:32.45px;height:13.76px;line-height:13.76px;text-align:center;font-size:11px;color:#474747;white-space:nowrap;letter-spacing:-0.35px">32–39</div>
<div style="position:absolute;left:696.35px;top:806.02px;width:32.45px;height:13.76px;line-height:13.76px;text-align:center;font-size:11px;color:#474747;white-space:nowrap;letter-spacing:-0.35px">36–42</div>
<div style="position:absolute;left:42.50px;top:806.82px;width:36.50px;height:13.76px;line-height:13.76px;text-align:center;font-size:10.5px;color:#fff;white-space:nowrap;letter-spacing:-0.6px">1.0MPa</div>
<div style="position:absolute;left:79.80px;top:819.78px;width:32.45px;height:13.76px;line-height:13.76px;text-align:center;font-size:11px;color:#474747;white-space:nowrap;letter-spacing:-0.35px">4–18</div>
<div style="position:absolute;left:112.25px;top:819.78px;width:32.45px;height:13.76px;line-height:13.76px;text-align:center;font-size:11px;color:#474747;white-space:nowrap;letter-spacing:-0.35px">4–18</div>
<div style="position:absolute;left:144.70px;top:819.78px;width:32.45px;height:13.76px;line-height:13.76px;text-align:center;font-size:11px;color:#474747;white-space:nowrap;letter-spacing:-0.35px">8–18</div>
<div style="position:absolute;left:177.15px;top:819.78px;width:32.45px;height:13.76px;line-height:13.76px;text-align:center;font-size:11px;color:#474747;white-space:nowrap;letter-spacing:-0.35px">8–18</div>
<div style="position:absolute;left:209.60px;top:819.78px;width:32.45px;height:13.76px;line-height:13.76px;text-align:center;font-size:11px;color:#474747;white-space:nowrap;letter-spacing:-0.35px">8–18</div>
<div style="position:absolute;left:242.05px;top:819.78px;width:32.45px;height:13.76px;line-height:13.76px;text-align:center;font-size:11px;color:#474747;white-space:nowrap;letter-spacing:-0.35px">8–22</div>
<div style="position:absolute;left:274.50px;top:819.78px;width:32.45px;height:13.76px;line-height:13.76px;text-align:center;font-size:11px;color:#474747;white-space:nowrap;letter-spacing:-0.35px">12–22</div>
<div style="position:absolute;left:306.95px;top:819.78px;width:32.45px;height:13.76px;line-height:13.76px;text-align:center;font-size:11px;color:#474747;white-space:nowrap;letter-spacing:-0.35px">12–26</div>
<div style="position:absolute;left:339.40px;top:819.78px;width:32.45px;height:13.76px;line-height:13.76px;text-align:center;font-size:11px;color:#474747;white-space:nowrap;letter-spacing:-0.35px">12–26</div>
<div style="position:absolute;left:371.85px;top:819.78px;width:32.45px;height:13.76px;line-height:13.76px;text-align:center;font-size:11px;color:#474747;white-space:nowrap;letter-spacing:-0.35px">16–26</div>
<div style="position:absolute;left:404.30px;top:819.78px;width:32.45px;height:13.76px;line-height:13.76px;text-align:center;font-size:11px;color:#474747;white-space:nowrap;letter-spacing:-0.35px">16–30</div>
<div style="position:absolute;left:436.75px;top:819.78px;width:32.45px;height:13.76px;line-height:13.76px;text-align:center;font-size:11px;color:#474747;white-space:nowrap;letter-spacing:-0.35px">20–30</div>
<div style="position:absolute;left:469.20px;top:819.78px;width:32.45px;height:13.76px;line-height:13.76px;text-align:center;font-size:11px;color:#474747;white-space:nowrap;letter-spacing:-0.35px">20–33</div>
<div style="position:absolute;left:501.65px;top:819.78px;width:32.45px;height:13.76px;line-height:13.76px;text-align:center;font-size:11px;color:#474747;white-space:nowrap;letter-spacing:-0.35px">20–36</div>
<div style="position:absolute;left:534.10px;top:819.78px;width:32.45px;height:13.76px;line-height:13.76px;text-align:center;font-size:11px;color:#474747;white-space:nowrap;letter-spacing:-0.35px">24–36</div>
<div style="position:absolute;left:566.55px;top:819.78px;width:32.45px;height:13.76px;line-height:13.76px;text-align:center;font-size:11px;color:#474747;white-space:nowrap;letter-spacing:-0.35px">24–39</div>
<div style="position:absolute;left:599.00px;top:819.78px;width:32.45px;height:13.76px;line-height:13.76px;text-align:center;font-size:11px;color:#474747;white-space:nowrap;letter-spacing:-0.35px">28–39</div>
<div style="position:absolute;left:631.45px;top:819.78px;width:32.45px;height:13.76px;line-height:13.76px;text-align:center;font-size:11px;color:#474747;white-space:nowrap;letter-spacing:-0.35px">28–42</div>
<div style="position:absolute;left:42.50px;top:820.58px;width:36.50px;height:13.76px;line-height:13.76px;text-align:center;font-size:10.5px;color:#fff;white-space:nowrap;letter-spacing:-0.6px">1.6MPa</div>
<div style="position:absolute;left:79.80px;top:833.54px;width:32.45px;height:13.76px;line-height:13.76px;text-align:center;font-size:11px;color:#474747;white-space:nowrap;letter-spacing:-0.35px">4–18</div>
<div style="position:absolute;left:112.25px;top:833.54px;width:32.45px;height:13.76px;line-height:13.76px;text-align:center;font-size:11px;color:#474747;white-space:nowrap;letter-spacing:-0.35px">8–18</div>
<div style="position:absolute;left:144.70px;top:833.54px;width:32.45px;height:13.76px;line-height:13.76px;text-align:center;font-size:11px;color:#474747;white-space:nowrap;letter-spacing:-0.35px">8–18</div>
<div style="position:absolute;left:177.15px;top:833.54px;width:32.45px;height:13.76px;line-height:13.76px;text-align:center;font-size:11px;color:#474747;white-space:nowrap;letter-spacing:-0.35px">8–22</div>
<div style="position:absolute;left:209.60px;top:833.54px;width:32.45px;height:13.76px;line-height:13.76px;text-align:center;font-size:11px;color:#474747;white-space:nowrap;letter-spacing:-0.35px">8–22</div>
<div style="position:absolute;left:242.05px;top:833.54px;width:32.45px;height:13.76px;line-height:13.76px;text-align:center;font-size:11px;color:#474747;white-space:nowrap;letter-spacing:-0.35px">8–26</div>
<div style="position:absolute;left:274.50px;top:833.54px;width:32.45px;height:13.76px;line-height:13.76px;text-align:center;font-size:11px;color:#474747;white-space:nowrap;letter-spacing:-0.35px">12–26</div>
<div style="position:absolute;left:306.95px;top:833.54px;width:32.45px;height:13.76px;line-height:13.76px;text-align:center;font-size:11px;color:#474747;white-space:nowrap;letter-spacing:-0.35px">12–30</div>
<div style="position:absolute;left:339.40px;top:833.54px;width:32.45px;height:13.76px;line-height:13.76px;text-align:center;font-size:11px;color:#474747;white-space:nowrap;letter-spacing:-0.35px">12–30</div>
<div style="position:absolute;left:371.85px;top:833.54px;width:32.45px;height:13.76px;line-height:13.76px;text-align:center;font-size:11px;color:#474747;white-space:nowrap;letter-spacing:-0.35px">16–30</div>
<div style="position:absolute;left:404.30px;top:833.54px;width:32.45px;height:13.76px;line-height:13.76px;text-align:center;font-size:11px;color:#474747;white-space:nowrap;letter-spacing:-0.35px">16–33</div>
<div style="position:absolute;left:436.75px;top:833.54px;width:32.45px;height:13.76px;line-height:13.76px;text-align:center;font-size:11px;color:#474747;white-space:nowrap;letter-spacing:-0.35px">16–36</div>
<div style="position:absolute;left:469.20px;top:833.54px;width:32.45px;height:13.76px;line-height:13.76px;text-align:center;font-size:11px;color:#474747;white-space:nowrap;letter-spacing:-0.35px">20–36</div>
<div style="position:absolute;left:501.65px;top:833.54px;width:32.45px;height:13.76px;line-height:13.76px;text-align:center;font-size:11px;color:#474747;white-space:nowrap;letter-spacing:-0.35px">20–39</div>
<div style="position:absolute;left:534.10px;top:833.54px;width:32.45px;height:13.76px;line-height:13.76px;text-align:center;font-size:11px;color:#474747;white-space:nowrap;letter-spacing:-0.35px">24–42</div>
<div style="position:absolute;left:566.55px;top:833.54px;width:32.45px;height:13.76px;line-height:13.76px;text-align:center;font-size:11px;color:#474747;white-space:nowrap;letter-spacing:-0.35px">24–48</div>
<div style="position:absolute;left:42.50px;top:834.34px;width:36.50px;height:13.76px;line-height:13.76px;text-align:center;font-size:10.5px;color:#fff;white-space:nowrap;letter-spacing:-0.6px">2.5MPa</div>
<div style="position:absolute;left:79.80px;top:847.30px;width:32.45px;height:13.76px;line-height:13.76px;text-align:center;font-size:11px;color:#474747;white-space:nowrap;letter-spacing:-0.35px">293</div>
<div style="position:absolute;left:112.25px;top:847.30px;width:32.45px;height:13.76px;line-height:13.76px;text-align:center;font-size:11px;color:#474747;white-space:nowrap;letter-spacing:-0.35px">328</div>
<div style="position:absolute;left:144.70px;top:847.30px;width:32.45px;height:13.76px;line-height:13.76px;text-align:center;font-size:11px;color:#474747;white-space:nowrap;letter-spacing:-0.35px">364</div>
<div style="position:absolute;left:177.15px;top:847.30px;width:32.45px;height:13.76px;line-height:13.76px;text-align:center;font-size:11px;color:#474747;white-space:nowrap;letter-spacing:-0.35px">418</div>
<div style="position:absolute;left:209.60px;top:847.30px;width:32.45px;height:13.76px;line-height:13.76px;text-align:center;font-size:11px;color:#474747;white-space:nowrap;letter-spacing:-0.35px">481</div>
<div style="position:absolute;left:242.05px;top:847.30px;width:32.45px;height:13.76px;line-height:13.76px;text-align:center;font-size:11px;color:#474747;white-space:nowrap;letter-spacing:-0.35px">543</div>
<div style="position:absolute;left:274.50px;top:847.30px;width:32.45px;height:13.76px;line-height:13.76px;text-align:center;font-size:11px;color:#474747;white-space:nowrap;letter-spacing:-0.35px">673</div>
<div style="position:absolute;left:306.95px;top:847.30px;width:32.45px;height:13.76px;line-height:13.76px;text-align:center;font-size:11px;color:#474747;white-space:nowrap;letter-spacing:-0.35px">729</div>
<div style="position:absolute;left:339.40px;top:847.30px;width:32.45px;height:13.76px;line-height:13.76px;text-align:center;font-size:11px;color:#474747;white-space:nowrap;letter-spacing:-0.35px">927</div>
<div style="position:absolute;left:371.85px;top:847.30px;width:32.45px;height:13.76px;line-height:13.76px;text-align:center;font-size:11px;color:#474747;white-space:nowrap;letter-spacing:-0.35px">957</div>
<div style="position:absolute;left:404.30px;top:847.30px;width:32.45px;height:13.76px;line-height:13.76px;text-align:center;font-size:11px;color:#474747;white-space:nowrap;letter-spacing:-0.35px">1188</div>
<div style="position:absolute;left:436.75px;top:847.30px;width:32.45px;height:13.76px;line-height:13.76px;text-align:center;font-size:11px;color:#474747;white-space:nowrap;letter-spacing:-0.35px">1218</div>
<div style="position:absolute;left:469.20px;top:847.30px;width:32.45px;height:13.76px;line-height:13.76px;text-align:center;font-size:11px;color:#474747;white-space:nowrap;letter-spacing:-0.35px">1600</div>
<div style="position:absolute;left:501.65px;top:847.30px;width:32.45px;height:13.76px;line-height:13.76px;text-align:center;font-size:11px;color:#474747;white-space:nowrap;letter-spacing:-0.35px">1800</div>
<div style="position:absolute;left:534.10px;top:847.30px;width:32.45px;height:13.76px;line-height:13.76px;text-align:center;font-size:11px;color:#474747;white-space:nowrap;letter-spacing:-0.35px">2000</div>
<div style="position:absolute;left:566.55px;top:847.30px;width:32.45px;height:13.76px;line-height:13.76px;text-align:center;font-size:11px;color:#474747;white-space:nowrap;letter-spacing:-0.35px">2300</div>
<div style="position:absolute;left:599.00px;top:847.30px;width:32.45px;height:13.76px;line-height:13.76px;text-align:center;font-size:11px;color:#474747;white-space:nowrap;letter-spacing:-0.35px">2600</div>
<div style="position:absolute;left:631.45px;top:847.30px;width:32.45px;height:13.76px;line-height:13.76px;text-align:center;font-size:11px;color:#474747;white-space:nowrap;letter-spacing:-0.35px">2700</div>
<div style="position:absolute;left:663.90px;top:847.30px;width:32.45px;height:13.76px;line-height:13.76px;text-align:center;font-size:11px;color:#474747;white-space:nowrap;letter-spacing:-0.35px">2860</div>
<div style="position:absolute;left:696.35px;top:847.30px;width:32.45px;height:13.76px;line-height:13.76px;text-align:center;font-size:11px;color:#474747;white-space:nowrap;letter-spacing:-0.35px">3200</div>
<div style="position:absolute;left:7.00px;top:848.10px;width:72.00px;height:13.76px;line-height:13.76px;text-align:center;font-size:11px;color:#fff;white-space:nowrap;">H</div>
<div style="position:absolute;left:7.00px;top:730.92px;width:35.50px;height:13.76px;line-height:13.76px;text-align:center;font-size:11px;color:#fff;white-space:nowrap;">D</div>
<div style="position:absolute;left:7.00px;top:778.92px;width:35.50px;height:13.76px;line-height:13.76px;text-align:center;font-size:11px;color:#fff;white-space:nowrap;">D1</div>
<div style="position:absolute;left:7.00px;top:819.72px;width:35.50px;height:13.76px;line-height:13.76px;text-align:center;font-size:11px;color:#fff;white-space:nowrap;">n–d</div>
<div class="p" style="left:7px;top:864px;font-size:10px;letter-spacing:0.45px">注：安装示意图中弹性座封闸阀或蝶阀任选，建议≥DN350选蝶阀。</div>
</body></html>
